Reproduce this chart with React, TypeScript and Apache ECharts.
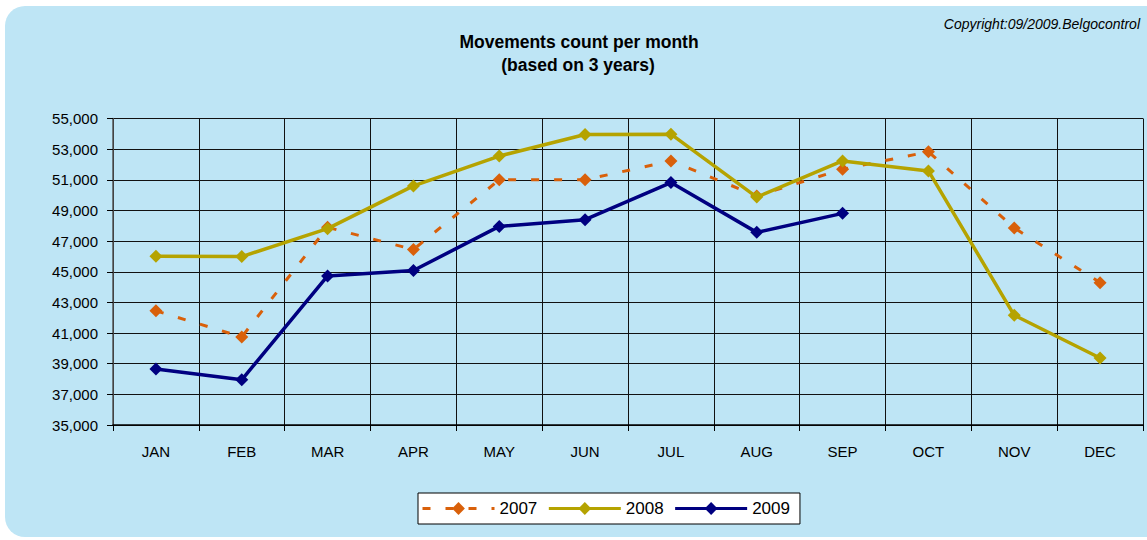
import React, { useEffect, useRef } from "react";
import * as echarts from "echarts";

const months = ["JAN", "FEB", "MAR", "APR", "MAY", "JUN", "JUL", "AUG", "SEP", "OCT", "NOV", "DEC"];
const s2007 = [42450, 40750, 47900, 46450, 51000, 51000, 52230, 49950, 51690, 52830, 47860, 44290];
const s2008 = [46010, 45990, 47810, 50600, 52550, 53960, 53980, 49870, 52230, 51580, 42160, 39370];
const s2009 = [38650, 37950, 44730, 45080, 47960, 48400, 50820, 47570, 48810, null, null, null];
const seriesNames = ["2007", "2008", "2009"];
const titleLines = ["Movements count per month", "(based on 3 years)"];
const copyright = "Copyright:09/2009.Belgocontrol";

const FONT = "'Liberation Sans', Arial, sans-serif";

export default function App() {
  const ref = useRef<HTMLDivElement>(null);
  useEffect(() => {
    if (!ref.current) return;
    const chart = echarts.init(ref.current, null, { renderer: "svg" });
    const fmt = (v: number) => v.toLocaleString("en-US");
    const colors = ["#D9600A", "#B5A300", "#000080"];
    chart.setOption({
      animation: false,
      backgroundColor: "#ffffff",
      textStyle: { fontFamily: FONT },
      graphic: [
        {
          type: "rect",
          z: -10,
          silent: true,
          shape: { x: 5, y: 6, width: 1170, height: 531, r: 20 },
          style: { fill: "#BEE5F5" },
        },
        {
          type: "text",
          x: 579,
          y: 42,
          z: 10,
          style: {
            text: titleLines[0],
            font: "bold 17.5px " + FONT,
            fill: "#000",
            align: "center",
            verticalAlign: "middle",
          },
        },
        {
          type: "text",
          x: 578,
          y: 65,
          z: 10,
          style: {
            text: titleLines[1],
            font: "bold 17.5px " + FONT,
            fill: "#000",
            align: "center",
            verticalAlign: "middle",
          },
        },
        {
          type: "text",
          x: 1140,
          y: 24,
          style: {
            text: copyright,
            font: "italic 14px " + FONT,
            fill: "#000",
            align: "right",
            verticalAlign: "middle",
          },
        },
      ],
      grid: { left: 113, right: 4, top: 118.5, bottom: 115, containLabel: false },
      legend: {
        left: 418,
        top: 493,
        data: seriesNames,
        itemWidth: 72,
        itemHeight: 16,
        itemGap: 10,
        padding: [7, 10, 7, 3],
        borderColor: "#000",
        borderWidth: 1,
        backgroundColor: "#ffffff",
        lineStyle: { width: 3 },
        textStyle: { fontSize: 17, color: "#000", fontFamily: FONT },
      },
      xAxis: {
        type: "category",
        data: months,
        boundaryGap: true,
        axisLine: { lineStyle: { color: "#000", width: 1.5 } },
        axisTick: { show: true, length: 6, lineStyle: { color: "#000" } },
        axisLabel: { fontSize: 15, color: "#000", margin: 19, fontFamily: FONT },
        splitLine: { show: true, lineStyle: { color: "#111", width: 1 } },
      },
      yAxis: {
        type: "value",
        min: 35000,
        max: 55000,
        interval: 2000,
        axisLine: { show: true, lineStyle: { color: "#555", width: 1.5 } },
        axisTick: { show: true, length: 6, lineStyle: { color: "#000" } },
        axisLabel: { fontSize: 15, color: "#000", margin: 15, formatter: fmt, fontFamily: FONT },
        splitLine: { show: true, lineStyle: { color: "#111", width: 1 } },
      },
      series: [
        {
          name: seriesNames[0],
          type: "line",
          data: s2007,
          color: colors[0],
          symbol: "diamond",
          symbolSize: 13,
          lineStyle: { width: 3, type: [8, 15], color: colors[0] },
          itemStyle: { color: colors[0] },
          z: 3,
        },
        {
          name: seriesNames[1],
          type: "line",
          data: s2008,
          color: colors[1],
          symbol: "diamond",
          symbolSize: 13,
          lineStyle: { width: 3.5, color: colors[1] },
          itemStyle: { color: colors[1] },
          z: 4,
        },
        {
          name: seriesNames[2],
          type: "line",
          data: s2009,
          color: colors[2],
          symbol: "diamond",
          symbolSize: 13,
          connectNulls: false,
          lineStyle: { width: 3.5, color: colors[2] },
          itemStyle: { color: colors[2] },
          z: 5,
        },
      ],
    });
    return () => chart.dispose();
  }, []);
  return (
    <div
      ref={ref}
      style={{ position: "fixed", left: 0, top: 0, width: 1147, height: 540 }}
    />
  );
}
